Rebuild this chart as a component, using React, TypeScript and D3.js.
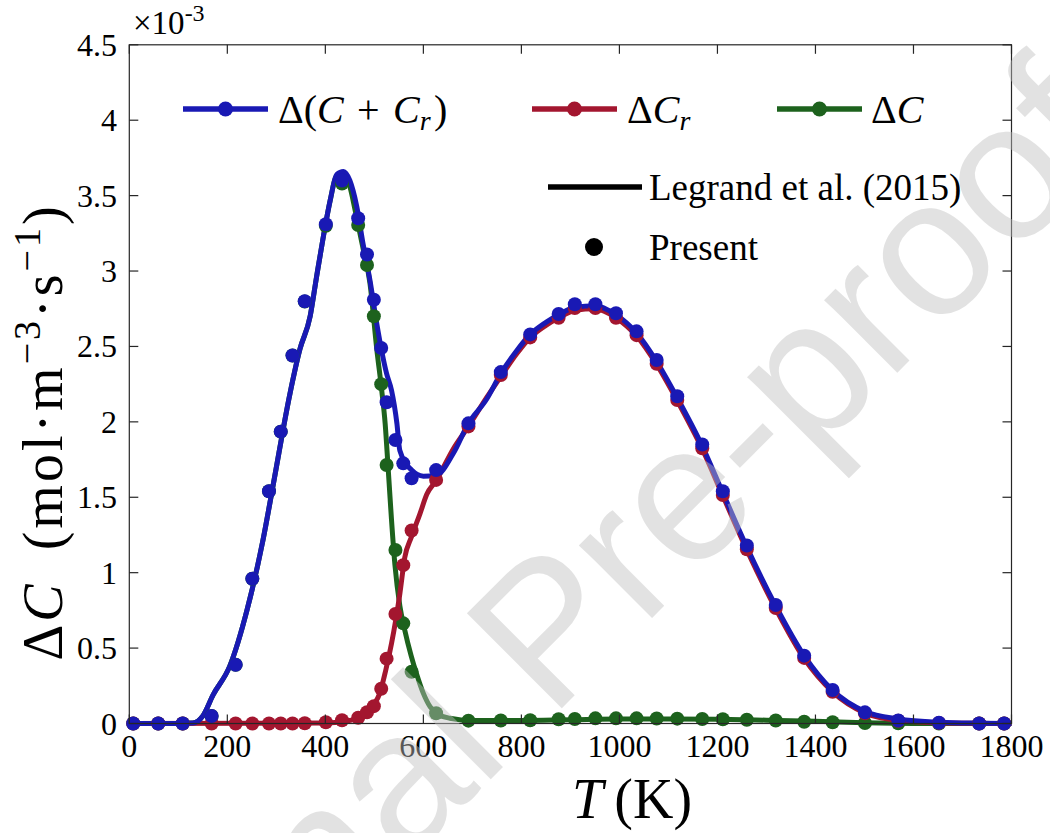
import React from 'react';
import * as d3 from 'd3';

const W = 1050;
const H = 833;

const xTicks = [0, 200, 400, 600, 800, 1000, 1200, 1400, 1600, 1800];
const yTicks = [0, 0.5, 1, 1.5, 2, 2.5, 3, 3.5, 4, 4.5];
const yTickLabels = ['0', '0.5', '1', '1.5', '2', '2.5', '3', '3.5', '4', '4.5'];

// Present (markers), values x 1e-3
const presentT = [8, 59, 109, 168, 217, 251, 285, 309, 333, 358, 401, 434, 467, 485, 499, 514, 525, 543, 559, 576, 626, 692, 758, 818, 876, 909, 951, 993, 1035, 1076, 1118, 1169, 1211, 1260, 1319, 1377, 1435, 1501, 1569, 1652, 1734, 1785];
const presentSum = [0, 0, 0, 0.05, 0.39, 0.96, 1.54, 1.935, 2.44, 2.8, 3.31, 3.6, 3.35, 3.11, 2.81, 2.49, 2.13, 1.88, 1.725, 1.626, 1.68, 1.99, 2.33, 2.58, 2.715, 2.78, 2.78, 2.72, 2.6, 2.41, 2.17, 1.85, 1.54, 1.18, 0.786, 0.45, 0.222, 0.074, 0.02, 0.005, 0, 0];
const presentCr = [0, 0, 0, 0, 0, 0, 0, 0, 0, 0.002, 0.008, 0.022, 0.038, 0.075, 0.115, 0.23, 0.43, 0.726, 1.05, 1.28, 1.615, 1.97, 2.31, 2.56, 2.69, 2.755, 2.755, 2.69, 2.575, 2.385, 2.145, 1.825, 1.515, 1.155, 0.765, 0.435, 0.21, 0.068, 0.018, 0.004, 0, 0];
const presentC = [0, 0, 0, 0.05, 0.39, 0.96, 1.54, 1.935, 2.44, 2.798, 3.3, 3.58, 3.305, 3.04, 2.7, 2.25, 1.714, 1.15, 0.664, 0.343, 0.068, 0.019, 0.02, 0.022, 0.028, 0.03, 0.034, 0.034, 0.034, 0.033, 0.032, 0.03, 0.028, 0.025, 0.02, 0.012, 0.008, 0.003, 0.001, 0, 0, 0];

// Legrand et al. (2015) (lines)
const legrandSumT = [0, 100, 130, 150, 171, 205, 240, 273, 294, 328, 348, 369, 382, 396, 410, 423, 437, 450, 464, 477, 491, 505, 525, 535, 546, 552, 576, 600, 626, 661, 692, 729, 758, 790, 818, 850, 876, 910, 950, 993, 1035, 1076, 1118, 1169, 1211, 1260, 1319, 1377, 1435, 1501, 1569, 1652, 1734, 1800];
const legrandSum = [0, 0, 0.003, 0.05, 0.19, 0.38, 0.75, 1.22, 1.59, 2.19, 2.48, 2.7, 2.96, 3.23, 3.47, 3.64, 3.66, 3.6, 3.43, 3.18, 2.94, 2.65, 2.32, 2.21, 1.99, 1.81, 1.68, 1.64, 1.645, 1.79, 1.99, 2.15, 2.32, 2.47, 2.58, 2.66, 2.71, 2.76, 2.77, 2.71, 2.59, 2.4, 2.16, 1.84, 1.53, 1.17, 0.78, 0.45, 0.22, 0.08, 0.03, 0.008, 0.002, 0];
const legrandCrT = [0, 400, 440, 470, 484, 500, 511, 523, 535, 552, 562, 576, 593, 607, 626, 661, 692, 729, 758, 790, 818, 850, 876, 910, 950, 993, 1035, 1076, 1118, 1169, 1211, 1260, 1319, 1377, 1435, 1501, 1569, 1652, 1734, 1800];
const legrandCr = [0, 0.003, 0.015, 0.04, 0.08, 0.13, 0.2, 0.35, 0.53, 0.86, 1.1, 1.24, 1.39, 1.52, 1.61, 1.82, 1.97, 2.16, 2.3, 2.45, 2.56, 2.64, 2.69, 2.74, 2.75, 2.69, 2.57, 2.38, 2.14, 1.82, 1.51, 1.15, 0.76, 0.43, 0.21, 0.07, 0.02, 0.005, 0.001, 0];
const legrandCT = [0, 100, 130, 150, 171, 205, 240, 273, 294, 328, 348, 369, 382, 396, 410, 423, 437, 450, 461, 477, 491, 505, 515, 522, 528, 535, 542, 552, 562, 575, 586, 600, 614, 630, 654, 700, 800, 900, 1000, 1100, 1200, 1300, 1400, 1500, 1560, 1600, 1800];
const legrandC = [0, 0, 0.003, 0.05, 0.19, 0.38, 0.75, 1.22, 1.59, 2.19, 2.48, 2.7, 2.96, 3.23, 3.47, 3.63, 3.64, 3.56, 3.4, 3.15, 2.92, 2.48, 2.21, 1.99, 1.7, 1.35, 1.05, 0.78, 0.62, 0.45, 0.33, 0.2, 0.11, 0.06, 0.035, 0.02, 0.02, 0.025, 0.03, 0.03, 0.028, 0.022, 0.015, 0.005, 0.001, 0, 0];

const BLUE = '#1919b4';
const RED = '#a3162f';
const GREEN = '#1d621d';
const FONT = '"Liberation Serif", "Times New Roman", serif';

const x = d3.scaleLinear().domain([0, 1800]).range([129.3, 1011.5]);
const y = d3.scaleLinear().domain([0, 4.5]).range([723.5, 44.8]);

const lineGen = d3
  .line<[number, number]>()
  .x((d) => x(d[0]))
  .y((d) => y(d[1]))
  .curve(d3.curveMonotoneX);

function zip(a: number[], b: number[]): [number, number][] {
  return a.map((v, i) => [v, b[i]] as [number, number]);
}

const lineSeries = [
  { color: GREEN, pts: zip(legrandCT, legrandC) },
  { color: RED, pts: zip(legrandCrT, legrandCr) },
  { color: BLUE, pts: zip(legrandSumT, legrandSum) },
];
const pointSeries = [
  { color: GREEN, vals: presentC },
  { color: RED, vals: presentCr },
  { color: BLUE, vals: presentSum },
];

export default function App() {
  const x0 = x.range()[0];
  const x1 = x.range()[1];
  const y0 = y.range()[0];
  const y1 = y.range()[1];
  const axisColor = '#262626';
  return (
    <svg
      width={W}
      height={H}
      viewBox={`0 0 ${W} ${H}`}
      style={{ position: 'absolute', left: 0, top: 0, background: '#fff' }}
      fontFamily={FONT}
    >
      <rect x={0} y={0} width={W} height={H} fill="#fff" />
      <defs>
        <clipPath id="clip">
          <rect x={x0 - 10} y={y1 - 10} width={x1 - x0 + 20} height={y0 - y1 + 20} />
        </clipPath>
        <clipPath id="pageclip">
          <rect x={0} y={0} width={W} height={H} />
        </clipPath>
      </defs>
      {/* data lines */}
      <g clipPath="url(#clip)">
        {lineSeries.map((s, i) => (
          <path key={i} d={lineGen(s.pts) || ''} fill="none" stroke={s.color} strokeWidth={5} strokeLinejoin="round" />
        ))}
        {pointSeries.map((s, i) => (
          <g key={i}>
            {s.vals.map((v, j) => (
              <circle key={j} cx={x(presentT[j])} cy={y(v)} r={7} fill={s.color} />
            ))}
          </g>
        ))}
      </g>
      {/* axes box */}
      <rect x={x0} y={y1} width={x1 - x0} height={y0 - y1} fill="none" stroke={axisColor} strokeWidth={1.2} />
      {xTicks.map((t) => (
        <g key={'xt' + t}>
          <line x1={x(t)} x2={x(t)} y1={y0} y2={y0 - 9} stroke={axisColor} strokeWidth={1.2} />
          <line x1={x(t)} x2={x(t)} y1={y1} y2={y1 + 9} stroke={axisColor} strokeWidth={1.2} />
          <text x={x(t)} y={757} textAnchor="middle" fontSize={32} fill="#000">
            {t}
          </text>
        </g>
      ))}
      {yTicks.map((t, i) => (
        <g key={'yt' + t}>
          <line x1={x0} x2={x0 + 9} y1={y(t)} y2={y(t)} stroke={axisColor} strokeWidth={1.2} />
          <line x1={x1} x2={x1 - 9} y1={y(t)} y2={y(t)} stroke={axisColor} strokeWidth={1.2} />
          <text x={117} y={y(t) + 11} textAnchor="end" fontSize={32} fill="#000">
            {yTickLabels[i]}
          </text>
        </g>
      ))}
      {/* exponent */}
      <text x={133} y={34} fontSize={33} fill="#000">
        ×10<tspan fontSize={24} dy={-13}>-3</tspan>
      </text>
      {/* axis labels */}
      <text x={632} y={818} textAnchor="middle" fontSize={56} fill="#000">
        <tspan fontStyle="italic">T</tspan>{'\u2009'}(K)
      </text>
      <text
        transform="translate(62,432) rotate(-90)"
        textAnchor="middle"
        fontSize={56}
        letterSpacing={3}
        fill="#000"
      >
        Δ<tspan fontStyle="italic">C</tspan>{'\u2002'}(mol·m<tspan fontSize={38} dy={-22}>−3</tspan>
        <tspan dy={22}>·s</tspan>
        <tspan fontSize={38} dy={-22}>−1</tspan>
        <tspan dy={22}>)</tspan>
      </text>
      {/* legend 1 */}
      {[
        { c: BLUE, x1: 183, x2: 268 },
        { c: RED, x1: 532, x2: 617 },
        { c: GREEN, x1: 777, x2: 862 },
      ].map((l, i) => (
        <g key={'lg' + i}>
          <line x1={l.x1} x2={l.x2} y1={109} y2={109} stroke={l.c} strokeWidth={5.5} />
          <circle cx={(l.x1 + l.x2) / 2} cy={109} r={7.5} fill={l.c} />
        </g>
      ))}
      <text x={278} y={123} fontSize={40} fill="#000">
        Δ(<tspan fontStyle="italic">C</tspan>{'\u2004+\u2004'}<tspan fontStyle="italic">C</tspan>
        <tspan fontStyle="italic" fontSize={28} dy={7}>r</tspan>
        <tspan dy={-7}>{'\u200A'})</tspan>
      </text>
      <text x={627} y={123} fontSize={40} fill="#000">
        Δ<tspan fontStyle="italic">C</tspan>
        <tspan fontStyle="italic" fontSize={28} dy={7}>r</tspan>
      </text>
      <text x={871} y={123} fontSize={40} fill="#000">
        Δ<tspan fontStyle="italic">C</tspan>
      </text>
      {/* legend 2 */}
      <line x1={548} x2={642} y1={187} y2={187} stroke="#000" strokeWidth={5.5} />
      <text x={649} y={200} fontSize={37} fill="#000">
        Legrand et al. (2015)
      </text>
      <circle cx={594} cy={247} r={9} fill="#000" />
      <text x={649} y={260} fontSize={37} fill="#000">
        Present
      </text>
      {/* watermark */}
      <g clipPath="url(#pageclip)">
        <text
          transform="translate(60,1210) rotate(-45)"
          fontSize={195}
          fontFamily='"Liberation Sans", Arial, sans-serif'
          fill="#c0c0c0"
          opacity={0.45}
        >
          Journal Pre-proof
        </text>
      </g>
    </svg>
  );
}
